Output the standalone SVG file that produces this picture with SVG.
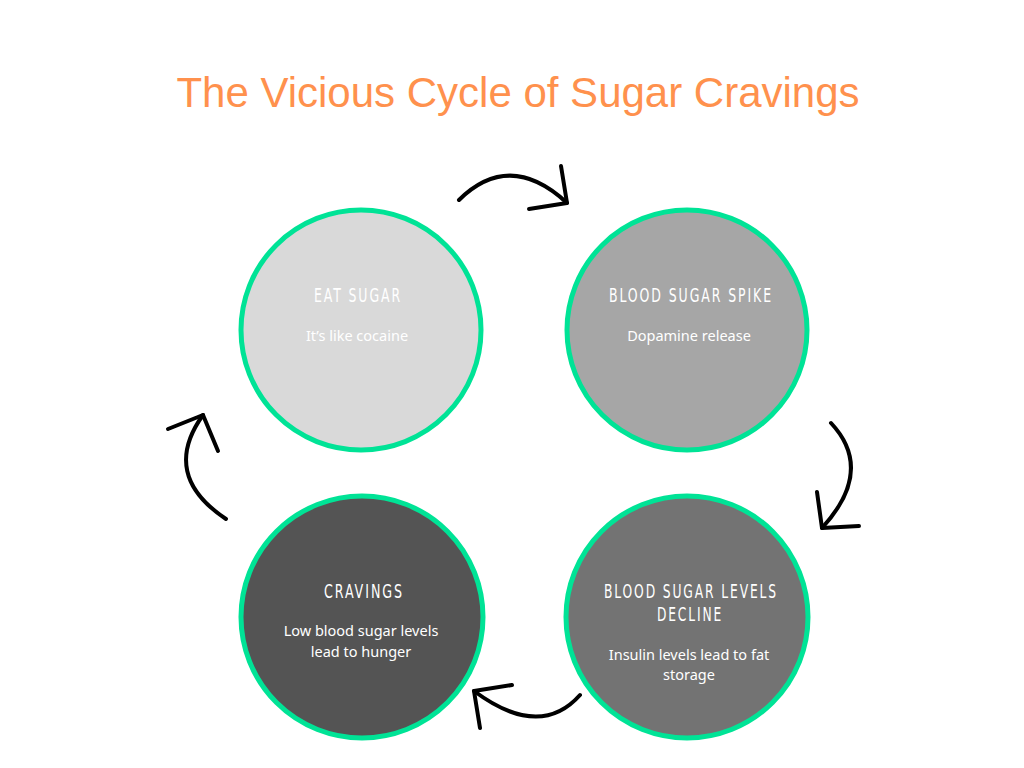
<svg xmlns="http://www.w3.org/2000/svg" width="1024" height="768" viewBox="0 0 1024 768">
<style>
.title{font-family:"Liberation Sans",Arial,sans-serif;font-size:42px;fill:#FF914D;text-anchor:middle}
.node circle{stroke:#00E396;stroke-width:5}
.h{font-family:"DejaVu Sans Condensed","DejaVu Sans",sans-serif;font-size:19px;fill:#ffffff;text-anchor:middle;letter-spacing:2.6px}
.b{font-family:"Noto Sans","Open Sans",sans-serif;font-size:14.5px;fill:#ffffff;text-anchor:middle}
.conn path{fill:none;stroke:#000;stroke-width:4;stroke-linecap:round;stroke-linejoin:round}
</style>
<rect width="1024" height="768" fill="#ffffff"/>
<text class="title" x="518" y="107">The Vicious Cycle of Sugar Cravings</text>
<g id="node-eat-sugar" class="node">
<circle cx="361" cy="330" r="120" fill="#D9D9D9"/>
<text class="h" x="358" y="302" textLength="88" lengthAdjust="spacingAndGlyphs">EAT SUGAR</text>
<text class="b" x="357" y="341">It’s like cocaine</text>
</g>
<g id="node-spike" class="node">
<circle cx="687" cy="330" r="120" fill="#A6A6A6"/>
<text class="h" x="691" y="302" textLength="164" lengthAdjust="spacingAndGlyphs">BLOOD SUGAR SPIKE</text>
<text class="b" x="689" y="341">Dopamine release</text>
</g>
<g id="node-decline" class="node">
<circle cx="687" cy="617" r="121" fill="#737373"/>
<text class="h" x="691" y="598" textLength="174" lengthAdjust="spacingAndGlyphs">BLOOD SUGAR LEVELS</text>
<text class="h" x="690" y="621" textLength="66" lengthAdjust="spacingAndGlyphs">DECLINE</text>
<text class="b" x="689" y="660">Insulin levels lead to fat</text>
<text class="b" x="689" y="680">storage</text>
</g>
<g id="node-cravings" class="node">
<circle cx="362" cy="617" r="121" fill="#545454"/>
<text class="h" x="364" y="598" textLength="80" lengthAdjust="spacingAndGlyphs">CRAVINGS</text>
<text class="b" x="361" y="636">Low blood sugar levels</text>
<text class="b" x="361" y="657">lead to hunger</text>
</g>
<g id="connectors" class="conn">
<path d="M459 200 Q510 150 567 203"/>
<path d="M561 166 L567 203 L529 209"/>
<path d="M831 423 Q875 470 822 528"/>
<path d="M817 492 L822 528 L859 526"/>
<path d="M580 695 Q540 740 474 691"/>
<path d="M512 685 L474 691 L480 728"/>
<path d="M226 519 Q160 475 203 415"/>
<path d="M168 429 L203 415 L218 451"/>
</g>
</svg>
